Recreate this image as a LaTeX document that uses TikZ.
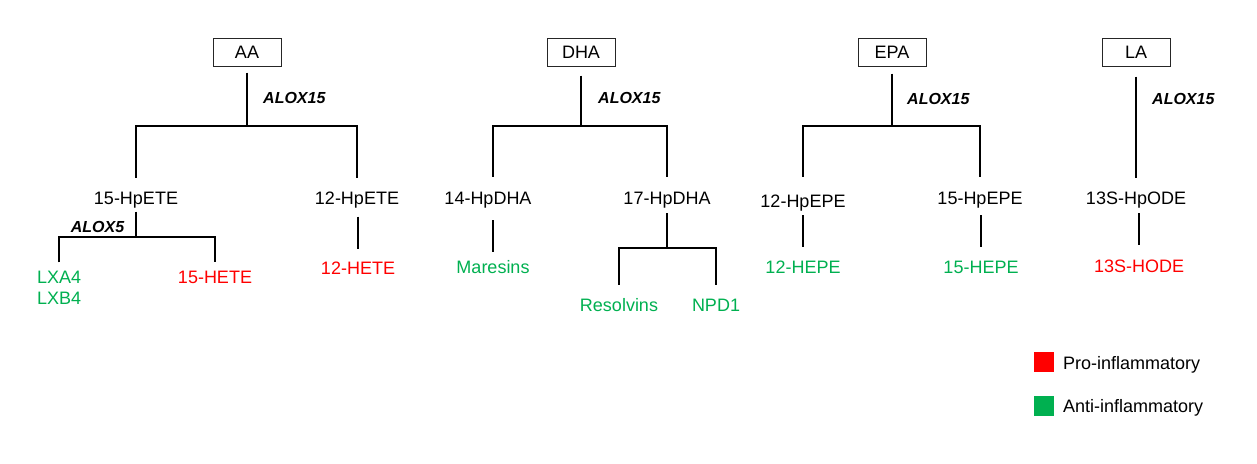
\documentclass[tikz,border=0pt]{standalone}
\usepackage{fontspec}
\setmainfont{Liberation Sans}
\definecolor{pro}{HTML}{FF0000}
\definecolor{anti}{HTML}{00B050}
\begin{document}
\begin{tikzpicture}[x=1pt,y=-1pt,
  box/.style={draw=black!85, line width=1pt, minimum width=68pt, minimum height=28pt, inner sep=0pt, font=\fontsize{18}{21}\selectfont},
  txt/.style={inner sep=0pt, text height=13pt, text depth=4pt, anchor=base, font=\fontsize{18}{21}\selectfont},
  enz/.style={inner sep=0pt, anchor=west, font=\fontsize{16}{19}\selectfont\bfseries\itshape},
  ln/.style={line width=1.8pt},
  sq/.style={fill=#1, minimum size=20pt, inner sep=0pt}]
\useasboundingbox (0,0) rectangle (1257,463);
% boxes
\node[box] (AA)  at (247,52.5)  {AA};
\node[box] (DHA) at (581,52.5)  {DHA};
\node[box] (EPA) at (892,52.5)  {EPA};
\node[box] (LA)  at (1136,52.5) {LA};
% enzymes
\node[enz] (e1) at (263,98.3) {ALOX15};
\node[enz] (e2) at (598,98)   {ALOX15};
\node[enz] (e3) at (907,99)   {ALOX15};
\node[enz] (e4) at (1152,99)  {ALOX15};
\node[enz] (e5) at (70.7,226.7) {ALOX5};
% intermediates
\node[txt] (n15HpETE) at (136,204.5)  {15-HpETE};
\node[txt] (n12HpETE) at (357,204.5)  {12-HpETE};
\node[txt] (n14HpDHA) at (488,204.5)  {14-HpDHA};
\node[txt] (n17HpDHA) at (667,204.5)  {17-HpDHA};
\node[txt] (n12HpEPE) at (803,207.2)  {12-HpEPE};
\node[txt] (n15HpEPE) at (980,204.8)  {15-HpEPE};
\node[txt] (n13HpODE) at (1136,204.2) {13S-HpODE};
% products
\node[txt, anchor=base west, text=anti] (LXA4) at (37,283.5) {LXA4};
\node[txt, anchor=base west, text=anti] (LXB4) at (37,304.5) {LXB4};
\node[txt, text=pro]  (n15HETE) at (215,283.5)  {15-HETE};
\node[txt, text=pro]  (n12HETE) at (358,274.5)  {12-HETE};
\node[txt, text=anti] (Mar)     at (493,273.8)  {Maresins};
\node[txt, text=anti] (Res)     at (619,311.5)  {Resolvins};
\node[txt, text=anti] (NPD)     at (716,311.5)  {NPD1};
\node[txt, text=anti] (n12HEPE) at (803,273.8)  {12-HEPE};
\node[txt, text=anti] (n15HEPE) at (981,273.5)  {15-HEPE};
\node[txt, text=pro]  (n13HODE) at (1139,272.5) {13S-HODE};
% junctions
\coordinate (aJ) at (247,126);
\coordinate (bJ) at (136,237);
\coordinate (dJ) at (581,126);
\coordinate (eJ) at (667,248);
\coordinate (pJ) at (892,126);
% AA tree
\draw[ln] ([yshift=-5.5pt]AA.south) -- (aJ);
\draw[ln] ([yshift=13.5pt]n15HpETE.north) |- (aJ) -| ([yshift=13.5pt]n12HpETE.north);
\draw[ln] ([yshift=-3pt]n15HpETE.south) -- (bJ);
\draw[ln] ([yshift=8pt]LXA4.north) |- (bJ) -| ([yshift=8pt]n15HETE.north);
\draw[ln] ([yshift=-8pt]n12HpETE.south -| n12HETE.north) -- ([yshift=12.5pt]n12HETE.north);
% DHA tree
\draw[ln] ([yshift=-8.5pt]DHA.south) -- (dJ);
\draw[ln] ([yshift=14.8pt]n14HpDHA.north -| Mar.north) |- (dJ) -| ([yshift=14.8pt]n17HpDHA.north);
\draw[ln] ([yshift=-11.5pt]n14HpDHA.south -| Mar.north) -- ([yshift=9pt]Mar.north);
\draw[ln] ([yshift=-4.5pt]n17HpDHA.south) -- (eJ);
\draw[ln] ([yshift=13.5pt]Res.north) |- (eJ) -| ([yshift=13.5pt]NPD.north);
% EPA tree
\draw[ln] ([yshift=-6.5pt]EPA.south) -- (pJ);
\draw[ln] ([yshift=17.5pt]n12HpEPE.north) |- (pJ) -| ([yshift=15pt]n15HpEPE.north);
\draw[ln] ([yshift=-3.8pt]n12HpEPE.south) -- ([yshift=14pt]n12HEPE.north);
\draw[ln] ([yshift=-6.2pt]n15HpEPE.south -| n15HEPE.north) -- ([yshift=13.8pt]n15HEPE.north);
% LA tree
\draw[ln] ([yshift=-9.5pt]LA.south) -- ([yshift=13pt]n13HpODE.north);
\draw[ln] ([yshift=-4.8pt]n13HpODE.south -| n13HODE.north) -- ([yshift=14.5pt]n13HODE.north);
% legend
\node[sq=pro]  (sqPro)  at (1044,362.3) {};
\node[sq=anti] (sqAnti) at (1044,406.3) {};
\node[txt, anchor=base west] (lPro)  at (1063,369.5) {Pro-inflammatory};
\node[txt, anchor=base west] (lAnti) at (1063,412.5) {Anti-inflammatory};
\end{tikzpicture}
\end{document}
